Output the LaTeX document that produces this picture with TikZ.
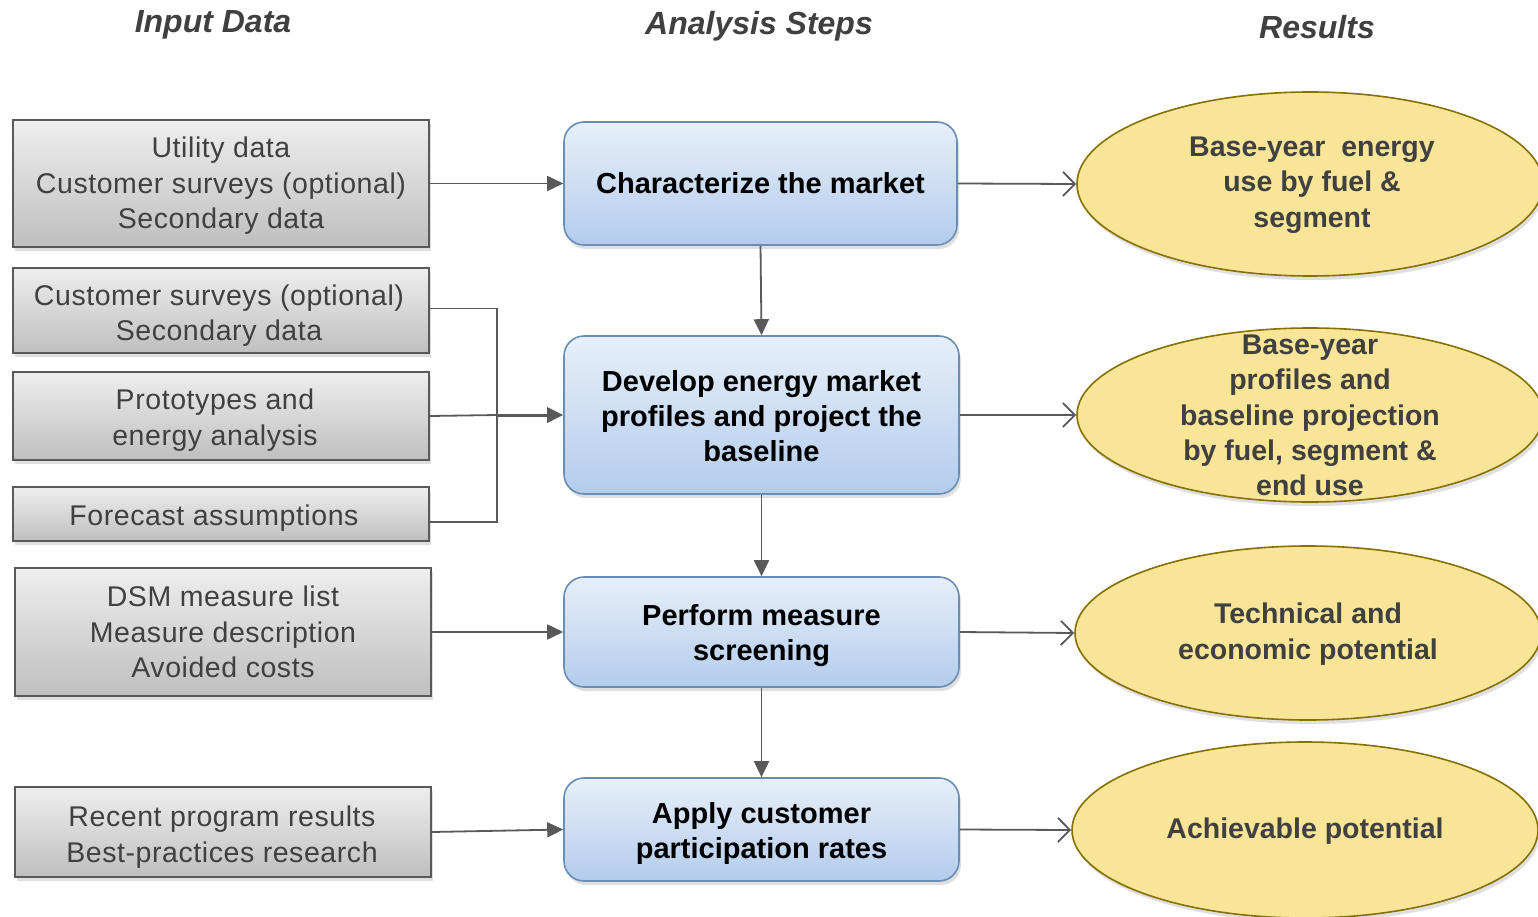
\documentclass[tikz,border=0pt]{standalone}
\usepackage{fontspec}
\setmainfont{Liberation Sans}
\newfontfamily\grayfont[LetterSpace=2]{Liberation Sans}
\usetikzlibrary{shapes.geometric,shadows,arrows.meta}
\definecolor{txtgray}{HTML}{404040}
\definecolor{linegray}{HTML}{595959}
\definecolor{boxtop}{HTML}{EEEEEE}
\definecolor{boxbot}{HTML}{BFBFBF}
\definecolor{bluetop}{HTML}{E7EFFA}
\definecolor{bluebot}{HTML}{B3CCEC}
\definecolor{blueline}{HTML}{6A8DB6}
\definecolor{ellfill}{HTML}{F9E598}
\definecolor{ellline}{HTML}{857000}
\tikzset{
  header/.style={font=\fontsize{32}{36}\selectfont\bfseries\itshape, text=txtgray},
  inbox/.style={draw=linegray, line width=1.6pt, top color=boxtop, bottom color=boxbot,
    minimum width=416pt, inner sep=0pt,
    drop shadow={opacity=0.25, shadow xshift=2pt, shadow yshift=-4pt}},
  intext/.style={align=center, inner sep=0pt, text=txtgray, font=\grayfont\fontsize{28.5}{35.5}\selectfont},
  stepbox/.style={draw=blueline, line width=1.6pt, rounded corners=20pt, top color=bluetop, bottom color=bluebot,
    minimum width=395pt, inner sep=0pt,
    drop shadow={opacity=0.25, shadow xshift=2pt, shadow yshift=-4pt}},
  steptext/.style={align=center, inner sep=0pt, text=black, font=\fontsize{29}{35}\selectfont\bfseries},
  result/.style={ellipse, draw=ellline, line width=1.6pt, fill=ellfill, minimum width=466pt, inner sep=0pt,
    drop shadow={opacity=0.25, shadow xshift=2pt, shadow yshift=-4pt}},
  restext/.style={align=center, inner sep=0pt, text=txtgray, font=\fontsize{28.5}{35.3}\selectfont\bfseries},
  conn/.style={draw=linegray, line width=1.8pt},
  fillarrow/.style={conn, -{Triangle[length=16pt,width=15pt]}},
  openarrow/.style={conn, -{Straight Barb[length=12pt,width=24pt,line width=1.8pt]}},
}
\begin{document}
\begin{tikzpicture}[x=1pt,y=-1pt]
\useasboundingbox (0,0) rectangle (1538,917);
\fill[white] (0,0) rectangle (1538,917);

% headers
\node[header] (h1) at (213,25) {Input Data};
\node[header] (h2) at (759,26) {Analysis Steps};
\node[header] (h3) at (1317,27) {Results};

% input boxes
\node[inbox, minimum height=127pt] (g1) at (221,183.5) {};
\node[inbox, minimum height=85pt] (g2) at (221,310.5) {};
\node[inbox, minimum height=88pt] (g3) at (221,416) {};
\node[inbox, minimum height=54pt] (g4) at (221,514) {};
\node[inbox, minimum height=128pt] (g5) at (223,632) {};
\node[inbox, minimum height=90pt] (g6) at (223,832) {};
\node[intext] (g1t) at ([yshift=-2.5pt]g1.center) {Utility data\\Customer surveys (optional)\\Secondary data};
\node[intext] (g2t) at ([xshift=-2pt,yshift=-5pt]g2.center) {Customer surveys (optional)\\Secondary data};
\node[intext] (g3t) at ([xshift=-6pt,yshift=-4pt]g3.center) {Prototypes and\\energy analysis};
\node[intext] (g4t) at ([xshift=-7pt,yshift=-4pt]g4.center) {Forecast assumptions};
\node[intext] (g5t) at ([yshift=0pt]g5.center) {DSM measure list\\Measure description\\Avoided costs};
\node[intext] (g6t) at ([xshift=-1pt,yshift=-5pt]g6.center) {Recent program results\\Best-practices research};

% analysis steps
\node[stepbox, minimum width=393pt, minimum height=123pt] (b1) at (760.5,183.5) {};
\node[stepbox, minimum height=158pt] (b2) at (761.5,415) {};
\node[stepbox, minimum height=110pt] (b3) at (761.5,632) {};
\node[stepbox, minimum height=103pt] (b4) at (761.5,829.5) {};
\node[steptext] (b1t) at ([yshift=0pt]b1.center) {Characterize the market};
\node[steptext] (b2t) at ([yshift=-1pt]b2.center) {Develop energy market\\profiles and project the\\baseline};
\node[steptext] (b3t) at ([yshift=-4pt]b3.center) {Perform measure\\screening};
\node[steptext] (b4t) at ([yshift=-4pt]b4.center) {Apply customer\\participation rates};

% results
\node[result, minimum height=184pt] (e1) at (1310,184) {};
\node[result, minimum height=174pt] (e2) at (1310,415) {};
\node[result, minimum height=174pt] (e3) at (1308,633) {};
\node[result, minimum height=176pt] (e4) at (1305,830) {};
\node[restext] (e1t) at ([xshift=2pt,yshift=-1pt]e1.center) {Base-year\ \ energy\\use by fuel \&\\segment};
\node[restext] (e2t) at ([yshift=-0.5pt]e2.center) {Base-year\\profiles and\\baseline projection\\by fuel, segment \&\\end use};
\node[restext] (e3t) at ([yshift=-1pt]e3.center) {Technical and\\economic potential};
\node[restext] (e4t) at ([yshift=-1pt]e4.center) {Achievable potential};

% connectors
\coordinate (j) at (497,415);
\draw[fillarrow] (g1.east) -- (b1.west);
\draw[openarrow] (b1.east) -- (e1.west);
\draw[fillarrow] (b1.south) -- (b2.north);
\draw[conn] ([yshift=2pt]g2.east) -| (j) |- ([yshift=-8pt]g4.east);
\draw[conn] (g3.east) -- (j);
\draw[fillarrow, line width=3pt] (j) -- (b2.west);
\draw[openarrow] (b2.east) -- (e2.west);
\draw[fillarrow] (b2.south) -- (b3.north);
\draw[fillarrow] (g5.east) -- (b3.west);
\draw[openarrow] (b3.east) -- (e3.west);
\draw[fillarrow] (b3.south) -- (b4.north);
\draw[fillarrow] (g6.east) -- (b4.west);
\draw[openarrow] (b4.east) -- (e4.west);
\end{tikzpicture}
\end{document}
